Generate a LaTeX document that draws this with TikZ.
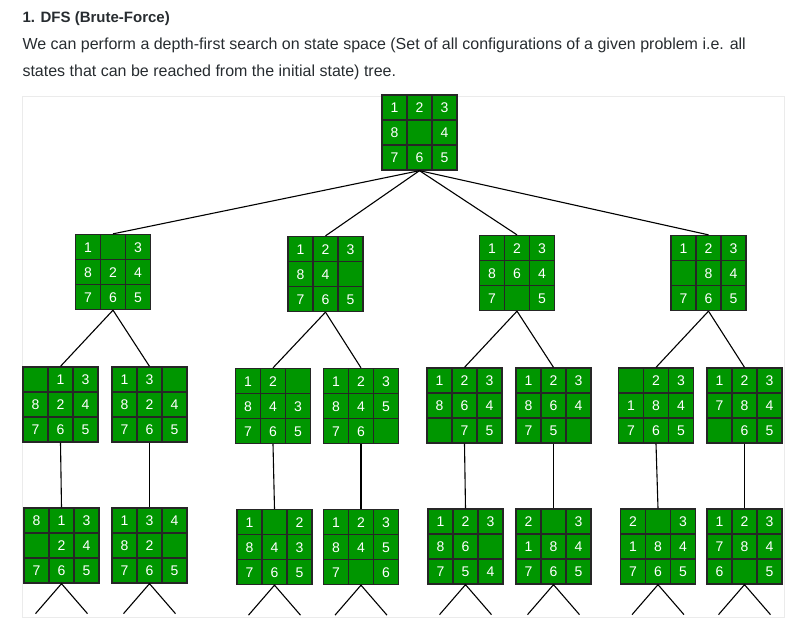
\documentclass[tikz,border=0pt]{standalone}
\usepackage{fontspec}
\setmainfont{Liberation Sans}
\usepackage{tikz}
\definecolor{tilegreen}{RGB}{0,150,0}
\definecolor{pagetext}{RGB}{39,44,48}
\newcommand{\tile}[1]{\makebox[25pt]{\rule[-7.5pt]{0pt}{25pt}#1}}
\newcommand{\tiles}[9]{\setlength{\tabcolsep}{0pt}\renewcommand{\arraystretch}{0}%
\begin{tabular}{ccc}\tile{#1}&\tile{#2}&\tile{#3}\\\tile{#4}&\tile{#5}&\tile{#6}\\\tile{#7}&\tile{#8}&\tile{#9}\end{tabular}}
\tikzstyle{b} = [rectangle, minimum width=75pt, minimum height=75pt, inner sep=0pt, fill=tilegreen, draw=black!85, line width=1.3pt, text=white, font=\fontsize{14}{14}\selectfont,
  path picture={\foreach \s in {25pt,50pt}{
    \draw[line width=1.2pt] ([xshift=\s]path picture bounding box.north west) -- ([xshift=\s]path picture bounding box.south west);
    \draw[line width=1.2pt] ([yshift=-\s]path picture bounding box.north west) -- ([yshift=-\s]path picture bounding box.north east);}}]
\tikzstyle{t} = [anchor=base west, inner sep=0pt, text=pagetext]

\begin{document}
\begin{tikzpicture}[x=1pt, y=-1pt, node distance=141pt, line width=1.1pt]
			\useasboundingbox (0,0) rectangle (806,641);
			\draw[black!8, line width=1pt] (22,96) rectangle (784,617);
			\node[t, font=\bfseries\fontsize{15}{18}\selectfont](head) at (22,22.5){1. DFS (Brute-Force)};
			\node[t, font=\fontsize{16}{19}\selectfont](line1) at (22,49.5){We can perform a depth-first search on state space (Set of all configurations of a given problem i.e. all};
			\node[t, font=\fontsize{16}{19}\selectfont](line2) at (22,76){states that can be reached from the initial state) tree.};
			% start state
			\node[b](0) at (419.5,132.5){\tiles{1}{2}{3}{8}{}{4}{7}{6}{5}};
			% first moves
			\node[b](1) at (113,272){\tiles{1}{}{3}{8}{2}{4}{7}{6}{5}};
			\node[b](2) at (325.5,274){\tiles{1}{2}{3}{8}{4}{}{7}{6}{5}};
			\node[b](3) at (517,273){\tiles{1}{2}{3}{8}{6}{4}{7}{}{5}};
			\node[b](4) at (708.5,273){\tiles{1}{2}{3}{}{8}{4}{7}{6}{5}};
			% second moves
			\node[b](11) at (60.5,404.5){\tiles{}{1}{3}{8}{2}{4}{7}{6}{5}};
			\node[b](12) at (149.5,404.5){\tiles{1}{3}{}{8}{2}{4}{7}{6}{5}};
			\node[b](21) at (273,406){\tiles{1}{2}{}{8}{4}{3}{7}{6}{5}};
			\node[b](22) at (361,406){\tiles{1}{2}{3}{8}{4}{5}{7}{6}{}};
			\node[b](31) at (464.5,405.5){\tiles{1}{2}{3}{8}{6}{4}{}{7}{5}};
			\node[b](32) at (553.5,405.5){\tiles{1}{2}{3}{8}{6}{4}{7}{5}{}};
			\node[b](41) at (656,405.5){\tiles{}{2}{3}{1}{8}{4}{7}{6}{5}};
			\node[b](42) at (744.5,405.5){\tiles{1}{2}{3}{7}{8}{4}{}{6}{5}};
			% third moves
			\node[b,below of=11,xshift=1pt](111){\tiles{8}{1}{3}{}{2}{4}{7}{6}{5}};
			\node[b,below of=12](121){\tiles{1}{3}{4}{8}{2}{}{7}{6}{5}};
			\node[b,below of=21,xshift=1.5pt](211){\tiles{1}{}{2}{8}{4}{3}{7}{6}{5}};
			\node[b,below of=22](221){\tiles{1}{2}{3}{8}{4}{5}{7}{}{6}};
			\node[b,below of=31,xshift=1pt](311){\tiles{1}{2}{3}{8}{6}{}{7}{5}{4}};
			\node[b,below of=32](321){\tiles{2}{}{3}{1}{8}{4}{7}{6}{5}};
			\node[b,below of=41,xshift=2pt](411){\tiles{2}{}{3}{1}{8}{4}{7}{6}{5}};
			\node[b,below of=42](421){\tiles{1}{2}{3}{7}{8}{4}{6}{}{5}};
			\foreach \p in {1,...,4}{
				\draw (0.south)--(\p.north);
				\foreach \c in {1,2}{
					\draw (\p.south)--(\p\c.north);
					\draw (\p\c.south)--(\p\c1.north);
					\coordinate (\p\c1l) at ([shift={(-26,30)}]\p\c1.south);
					\coordinate (\p\c1r) at ([shift={(26,30)}]\p\c1.south);
					\draw (\p\c1l)--(\p\c1.south)--(\p\c1r);
				}
			}
		\end{tikzpicture}
\end{document}
